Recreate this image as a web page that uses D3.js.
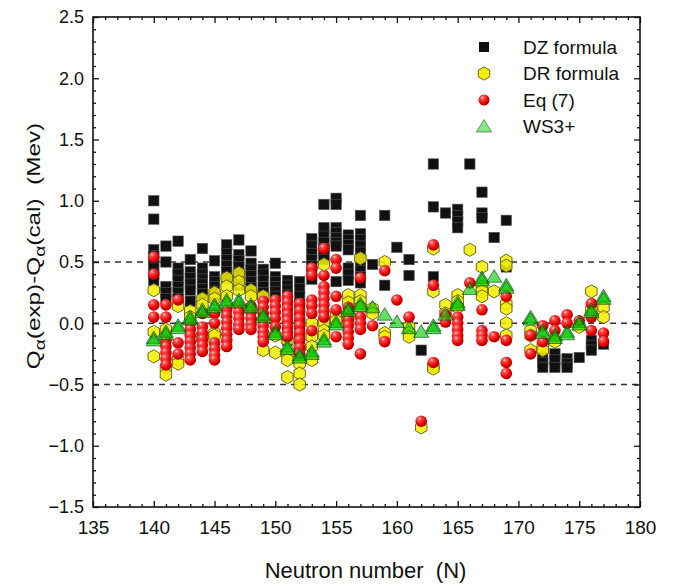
<!DOCTYPE html>
<html>
    <head>
        <style>
            body { margin: 0; background: #fff; }
            text { font-family: "Liberation Sans", Arial, sans-serif; fill: #111; }
        </style>
    </head>
    <body>
        <svg id="chart" width="676" height="585"></svg>

        <script src="https://cdn.jsdelivr.net/npm/d3@7"></script>
        <script>
            // values: [N, [Q(exp)-Q(cal) ...]]
            const dzFormula = [
                [140, [1.00, 0.85, 0.60, 0.55, 0.50, 0.45, 0.40, 0.35]],
                [141, [0.63, 0.50, 0.30, 0.25, 0.20]],
                [142, [0.67, 0.45, 0.40, 0.35, 0.30, 0.25, 0.20]],
                [143, [0.52, 0.42, 0.37, 0.32, 0.27, 0.18]],
                [144, [0.61, 0.45, 0.40, 0.36, 0.32, 0.28, 0.24]],
                [145, [0.51, 0.38, 0.34, 0.30, 0.26, 0.22]],
                [146, [0.64, 0.57, 0.52, 0.47, 0.42, 0.37]],
                [147, [0.68, 0.56, 0.51, 0.46, 0.41, 0.36, 0.31]],
                [148, [0.59, 0.49, 0.44, 0.39, 0.34, 0.29]],
                [149, [0.44, 0.40, 0.35, 0.30, 0.25, 0.22]],
                [150, [0.49, 0.38, 0.34, 0.30, 0.26, 0.22]],
                [151, [0.35, 0.31, 0.27, 0.23, 0.19, 0.15, 0.10, 0.05, -0.02, -0.08, -0.14]],
                [152, [0.34, 0.28, 0.22, 0.16, 0.10, 0.04, -0.02, -0.08, -0.14]],
                [153, [0.69, 0.63, 0.57, 0.52, 0.47, 0.42, 0.36]],
                [154, [0.97, 0.78, 0.71, 0.66, 0.61, 0.56, 0.52]],
                [155, [1.02, 0.97, 0.78, 0.74, 0.70, 0.66, 0.63, 0.34]],
                [156, [0.72, 0.68, 0.64, 0.60, 0.45, 0.40, 0.35]],
                [157, [0.88, 0.73, 0.68, 0.63, 0.58, 0.53, 0.48, 0.43, 0.38, 0.33]],
                [158, [0.48]],
                [159, [0.88, 0.31]],
                [160, [0.62]],
                [161, [0.52, 0.39]],
                [162, [-0.22]],
                [163, [1.30, 0.95, 0.38]],
                [164, [0.90]],
                [165, [0.93, 0.88, 0.83, 0.78]],
                [166, [1.30]],
                [167, [1.07, 0.90, 0.86]],
                [168, [0.70]],
                [169, [0.84, 0.46]],
                [172, [-0.28, -0.32, -0.36]],
                [173, [-0.25, -0.30, -0.36]],
                [174, [-0.29, -0.33, -0.36]],
                [175, [-0.28]],
                [176, [-0.14, -0.18, -0.22]],
                [177, [-0.17]]
            ];

            const drFormula = [
                [140, [0.27, -0.07, -0.27]],
                [141, [-0.05, -0.36, -0.42]],
                [142, [0.14, -0.30, -0.33]],
                [143, [0.10, 0.05]],
                [144, [0.20, 0.15, -0.10, -0.13]],
                [145, [0.25, 0.20, -0.08, -0.10]],
                [146, [0.37, 0.30, 0.22]],
                [147, [0.41, 0.34, 0.27]],
                [148, [0.27, 0.22]],
                [149, [0.22, -0.22]],
                [150, [-0.10, -0.24]],
                [151, [-0.14, -0.25, -0.30, -0.44]],
                [152, [-0.20, -0.33, -0.41, -0.50]],
                [153, [0.00, -0.11, -0.19, -0.30]],
                [154, [0.48, 0.01, -0.06, -0.10]],
                [155, [0.07, 0.02]],
                [156, [0.23, 0.17, 0.02]],
                [157, [0.53, 0.23, 0.18, 0.13]],
                [158, [0.12, 0.08]],
                [159, [0.50, -0.08, -0.11]],
                [161, [-0.03, -0.08, -0.11]],
                [162, [-0.85]],
                [163, [0.61, 0.26, -0.35, -0.37]],
                [164, [0.15, 0.08]],
                [165, [0.23, 0.18, 0.13]],
                [166, [0.60]],
                [167, [0.46, 0.30, 0.26, 0.22]],
                [168, [0.26]],
                [169, [0.51, 0.47, 0.16, 0.12, 0.00, -0.10]],
                [171, [-0.06, -0.10, -0.22]],
                [172, [-0.18, -0.22]],
                [173, [-0.15]],
                [175, [-0.03]],
                [176, [0.26, 0.11]],
                [177, [0.13, 0.05]]
            ];

            const eq7 = [
                [140, [0.54, 0.40, 0.15, 0.05]],
                [141, [0.15, 0.05, -0.14, -0.19, -0.24, -0.29, -0.34]],
                [142, [0.19, -0.16, -0.25]],
                [143, [0.00, -0.05, -0.10, -0.15, -0.20, -0.25, -0.30]],
                [144, [0.08, -0.03, -0.08, -0.13, -0.18, -0.23]],
                [145, [0.08, 0.00, -0.16, -0.21, -0.26, -0.30]],
                [146, [0.11, 0.06, 0.01, -0.04, -0.09, -0.14, -0.19]],
                [147, [0.14, 0.09, 0.04, -0.01, -0.05]],
                [148, [0.14, 0.09, 0.04, -0.01, -0.05]],
                [149, [0.18, 0.13, 0.08, 0.03, -0.02, -0.07, -0.11, -0.15]],
                [150, [0.19, 0.14, 0.09, 0.04, -0.03]],
                [151, [0.22, 0.17, 0.12, 0.07, 0.02, -0.03, -0.08, -0.11]],
                [152, [0.16, 0.10, 0.04, -0.02, -0.08, -0.14, -0.20, -0.25]],
                [153, [0.45, 0.39, 0.19, 0.14, 0.08, -0.06]],
                [154, [0.61, 0.39, 0.30, 0.25, 0.20, 0.15, 0.10, 0.05]],
                [155, [0.52, 0.45, 0.22, 0.11, -0.11]],
                [156, [0.13, 0.08, 0.03, -0.02, -0.07, -0.12, -0.17]],
                [157, [0.37, 0.05, 0.00, -0.05, -0.25]],
                [158, [-0.02]],
                [159, [0.43, -0.15]],
                [160, [0.19]],
                [161, [0.05]],
                [162, [-0.80]],
                [163, [0.64, 0.31, -0.32]],
                [164, [0.07, 0.01]],
                [165, [0.05, 0.00, -0.05, -0.10, -0.14]],
                [166, [0.33]],
                [167, [0.11, -0.06, -0.10, -0.14]],
                [168, [-0.11]],
                [169, [0.22, -0.14, -0.32, -0.41]],
                [171, [-0.10, -0.25]],
                [172, [-0.02, -0.15]],
                [173, [0.02, -0.06]],
                [174, [0.07, 0.00]],
                [175, [0.02]],
                [176, [0.16, 0.05, -0.06]],
                [177, [-0.08, -0.15]]
            ];

            const ws3plus = [
                [140, [-0.12, -0.14]],
                [141, [-0.07, -0.09]],
                [142, [-0.02, -0.04]],
                [143, [0.05, 0.03]],
                [144, [0.11, 0.09]],
                [145, [0.15, 0.13]],
                [146, [0.19, 0.17]],
                [147, [0.19, 0.17]],
                [148, [0.15, 0.13]],
                [149, [0.07, 0.05]],
                [150, [-0.07, -0.09]],
                [151, [-0.19, -0.21]],
                [152, [-0.26, -0.28]],
                [153, [-0.23, -0.25]],
                [154, [-0.13, -0.15]],
                [155, [0.01, -0.01]],
                [156, [0.12, 0.10]],
                [157, [0.16, 0.14]],
                [158, [0.13]],
                [159, [0.07]],
                [160, [0.01]],
                [161, [-0.04]],
                [162, [-0.07]],
                [163, [-0.02, -0.04]],
                [164, [0.07]],
                [165, [0.17, 0.15]],
                [166, [0.28]],
                [167, [0.37, 0.35]],
                [168, [0.38]],
                [169, [0.31, 0.29]],
                [171, [0.05, 0.03]],
                [172, [-0.06, -0.08]],
                [173, [-0.10, -0.12]],
                [174, [-0.07, -0.09]],
                [175, [0.01, -0.01]],
                [176, [0.11, 0.09]],
                [177, [0.22, 0.20]]
            ];

            const legendNames = ["DZ formula", "DR formula", "Eq (7)", "WS3+"];
            const xTicks = d3.range(135, 181, 5);
            const yTicks = [-1.5, -1.0, -0.5, 0.0, 0.5, 1.0, 1.5, 2.0, 2.5];
            const refLines = [0.5, 0, -0.5];

            // geometry
            const plotLeft = 93, plotRight = 640, plotTop = 17, plotBottom = 507;

            const x = d3.scaleLinear().domain([135, 180]).range([plotLeft, plotRight]);
            const y = d3.scaleLinear().domain([-1.5, 2.5]).range([plotBottom, plotTop]);

            const svg = d3.select("#chart");

            // flatten [N, [v...]] -> [{n, v}]
            function flat(series) {
                return series.flatMap(([n, vals]) => vals.map(v => ({n: n, v: v})));
            }

            // red sphere look
            const defs = svg.append("defs");
            const grad = defs.append("radialGradient")
                .attr("id", "ball")
                .attr("cx", "38%").attr("cy", "32%").attr("r", "68%")
                .attr("fx", "35%").attr("fy", "28%");
            grad.append("stop").attr("offset", "0%").attr("stop-color", "#ffe0e0");
            grad.append("stop").attr("offset", "22%").attr("stop-color", "#ff5050");
            grad.append("stop").attr("offset", "70%").attr("stop-color", "#e80000");
            grad.append("stop").attr("offset", "100%").attr("stop-color", "#a00000");

            const hexPath = d3.line()(d3.range(6).map(i => {
                const a = (i * 60 - 90) * Math.PI / 180;
                return [6.6 * Math.cos(a), 6.6 * Math.sin(a)];
            })) + "Z";
            const triPath = "M0,-7L7.6,5.5L-7.6,5.5Z";

            // dashed reference lines
            svg.append("g")
                .selectAll("line")
                .data(refLines)
                .join("line")
                    .attr("x1", plotLeft).attr("x2", plotRight)
                    .attr("y1", d => y(d)).attr("y2", d => y(d))
                    .attr("stroke", "#333")
                    .attr("stroke-width", 1.3)
                    .attr("stroke-dasharray", "6,5");

            function drawSquares(g, data) {
                g.selectAll("rect")
                    .data(data)
                    .join("rect")
                        .attr("x", d => x(d.n) - 5.2).attr("y", d => y(d.v) - 5.2)
                        .attr("width", 10.4).attr("height", 10.4)
                        .attr("fill", "#111")
                        .attr("stroke", "#555")
                        .attr("stroke-width", 0.6);
            }
            function drawHex(g, data) {
                g.selectAll("path")
                    .data(data)
                    .join("path")
                        .attr("d", hexPath)
                        .attr("transform", d => `translate(${x(d.n)},${y(d.v)})`)
                        .attr("fill", "#f4ee00")
                        .attr("fill-opacity", 0.85)
                        .attr("stroke", "#5c5a10")
                        .attr("stroke-width", 0.9);
            }
            function drawBalls(g, data) {
                g.selectAll("circle")
                    .data(data)
                    .join("circle")
                        .attr("cx", d => x(d.n)).attr("cy", d => y(d.v))
                        .attr("r", 5.8)
                        .attr("fill", "url(#ball)");
            }
            function drawTri(g, data) {
                g.selectAll("path")
                    .data(data)
                    .join("path")
                        .attr("d", triPath)
                        .attr("transform", d => `translate(${x(d.n)},${y(d.v)})`)
                        .attr("fill", "#00c800")
                        .attr("fill-opacity", 0.62)
                        .attr("stroke", "#0a3a0a")
                        .attr("stroke-opacity", 0.6)
                        .attr("stroke-width", 1);
            }

            drawSquares(svg.append("g"), flat(dzFormula));
            drawHex(svg.append("g"), flat(drFormula));
            drawBalls(svg.append("g"), flat(eq7));
            drawTri(svg.append("g"), flat(ws3plus));

            // axes, ticks pointing inward on all four sides
            const minorX = d3.range(135, 181, 1).filter(v => v % 5 !== 0);
            const minorY = d3.range(-15, 26, 1).map(v => v / 10).filter(v => Math.round(v * 10) % 5 !== 0);

            function styleAxis(g) {
                g.select(".domain").remove();
                g.selectAll("line").attr("stroke", "#111").attr("stroke-width", 1.3);
                g.selectAll("text")
                    .style("font-family", '"Liberation Sans", Arial, sans-serif')
                    .attr("fill", "#111");
            }

            svg.append("g").attr("transform", `translate(0,${plotBottom})`)
                .call(d3.axisBottom(x).tickValues(xTicks).tickSize(-6).tickPadding(14).tickFormat(d3.format("d")))
                .call(styleAxis)
                .call(g => g.selectAll("text").attr("font-size", 19));
            svg.append("g").attr("transform", `translate(0,${plotBottom})`)
                .call(d3.axisBottom(x).tickValues(minorX).tickSize(-3).tickFormat(""))
                .call(styleAxis);
            svg.append("g").attr("transform", `translate(0,${plotTop})`)
                .call(d3.axisTop(x).tickValues(xTicks).tickSize(-6).tickFormat(""))
                .call(styleAxis);
            svg.append("g").attr("transform", `translate(0,${plotTop})`)
                .call(d3.axisTop(x).tickValues(minorX).tickSize(-3).tickFormat(""))
                .call(styleAxis);

            svg.append("g").attr("transform", `translate(${plotLeft},0)`)
                .call(d3.axisLeft(y).tickValues(yTicks).tickSize(-6).tickPadding(9).tickFormat(d3.format(".1f")))
                .call(styleAxis)
                .call(g => g.selectAll("text").attr("font-size", 18));
            svg.append("g").attr("transform", `translate(${plotLeft},0)`)
                .call(d3.axisLeft(y).tickValues(minorY).tickSize(-3).tickFormat(""))
                .call(styleAxis);
            svg.append("g").attr("transform", `translate(${plotRight},0)`)
                .call(d3.axisRight(y).tickValues(yTicks).tickSize(-6).tickFormat(""))
                .call(styleAxis);
            svg.append("g").attr("transform", `translate(${plotRight},0)`)
                .call(d3.axisRight(y).tickValues(minorY).tickSize(-3).tickFormat(""))
                .call(styleAxis);

            // frame
            svg.append("rect")
                .attr("x", plotLeft).attr("y", plotTop)
                .attr("width", plotRight - plotLeft).attr("height", plotBottom - plotTop)
                .attr("fill", "none")
                .attr("stroke", "#111")
                .attr("stroke-width", 1.6);

            // axis titles (two spaces kept with nbsp)
            svg.append("text")
                .attr("x", (plotLeft + plotRight) / 2 - 1)
                .attr("y", 578)
                .attr("text-anchor", "middle")
                .attr("font-size", 22)
                .text("Neutron number \u00a0(N)");

            // the original title is drawn long and narrow, so stretch along the text
            const yTitle = svg.append("text")
                .attr("transform", "translate(40,246) rotate(-90) scale(1.28,1)")
                .attr("text-anchor", "middle")
                .attr("font-size", 19);
            yTitle.append("tspan").text("Q");
            yTitle.append("tspan").attr("dy", 5).attr("font-size", 15).text("α");
            yTitle.append("tspan").attr("dy", -5).text("(exp)-Q");
            yTitle.append("tspan").attr("dy", 5).attr("font-size", 15).text("α");
            yTitle.append("tspan").attr("dy", -5).text("(cal) \u00a0(Mev)");

            // legend
            const legend = svg.append("g").attr("transform", "translate(484,47)");
            const rowH = 26.5;
            legendNames.forEach((name, i) => {
                const row = legend.append("g").attr("transform", `translate(0,${i * rowH})`);
                if (i === 0) row.append("rect").attr("x", -5).attr("y", -5).attr("width", 10).attr("height", 10).attr("fill", "#111");
                if (i === 1) row.append("path").attr("d", hexPath).attr("fill", "#f4ee00").attr("stroke", "#5c5a10").attr("stroke-width", 0.9);
                if (i === 2) row.append("circle").attr("r", 5.5).attr("fill", "url(#ball)");
                if (i === 3) row.append("path").attr("d", triPath).attr("fill", "#00c800").attr("fill-opacity", 0.45).attr("stroke", "#0a3a0a").attr("stroke-opacity", 0.5);
                row.append("text")
                    .attr("x", 39)
                    .attr("dy", "0.36em")
                    .attr("font-size", 19)
                    .text(name);
            });
        </script>
    </body>
</html>
